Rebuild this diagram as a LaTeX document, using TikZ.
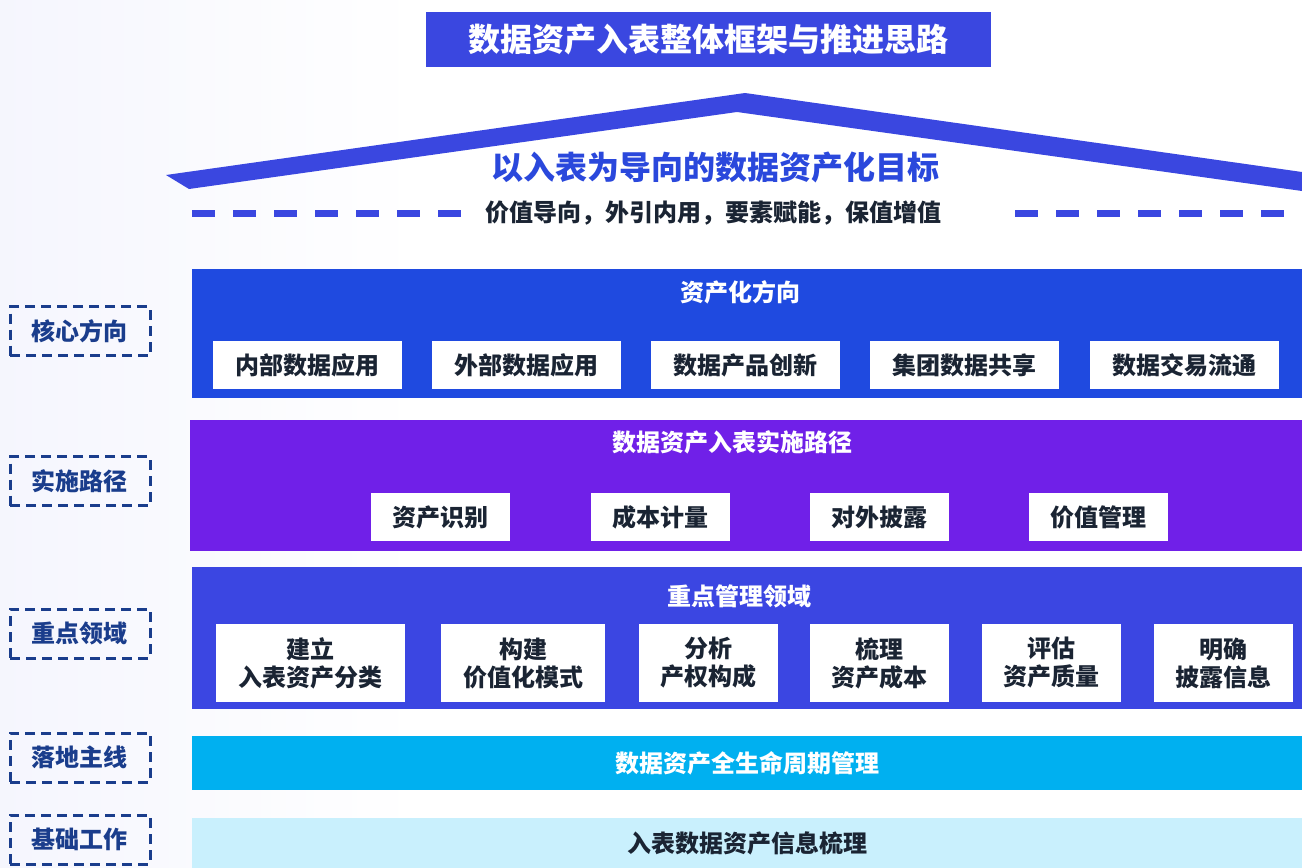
\documentclass[tikz,border=0pt]{standalone}
\usepackage{fontspec}
\setmainfont{Noto Sans CJK SC}
\usepackage{tikz}
\usetikzlibrary{positioning}
\definecolor{RoofBlue}{HTML}{3A47E0}
\definecolor{CoreBlue}{HTML}{1F4AE0}
\definecolor{PathPurple}{HTML}{7020E8}
\definecolor{AreaBlue}{HTML}{3B46E2}
\definecolor{LineCyan}{HTML}{00B0F0}
\definecolor{BaseCyan}{HTML}{C9F0FD}
\definecolor{ItemInk}{HTML}{1A2433}
\definecolor{SideInk}{HTML}{1A3D8C}
\definecolor{GoalBlue}{HTML}{2A48DC}
\tikzstyle{every node}=[font=\bfseries\fontsize{12}{14}\selectfont]
\tikzset{BandStyle/.style = {
			      shape          = rectangle,
			      inner sep      = 0pt,
			      outer sep      = 0pt,
			      minimum width  = 555pt}
						}
\tikzset{ItemStyle/.style = {
			      shape          = rectangle,
			      fill           = white,
			      text           = ItemInk,
			      align          = center,
			      inner sep      = 0pt,
			      minimum height = 24pt}
						}
\tikzset{SideStyle/.style = {
			      shape          = rectangle,
			      draw           = SideInk,
			      line width     = 1.5pt,
			      dash pattern   = on 5pt off 3pt,
			      text           = SideInk,
			      minimum width  = 70pt,
			      minimum height = 24.5pt}
						}
\tikzset{HeadStyle/.style = {text = white}}
\tikzset{RuleStyle/.style = {RoofBlue, line width = 3.5pt, dash pattern = on 11.5pt off 9pt}}

\begin{document}
\begin{tikzpicture}[x=0.5pt,y=-0.5pt]
	\useasboundingbox[fill=white] (0,0) rectangle (1302,868);
	\shade[left color=RoofBlue!5, right color=white] (0,0) rectangle (420,868);

	% title and roof
	\draw (708.5,39.5) node[shape=rectangle, fill=RoofBlue, text=white, minimum width=282.5pt, minimum height=27.5pt, font=\bfseries\fontsize{16}{19}\selectfont] (title) {数据资产入表整体框架与推进思路};
	\fill[RoofBlue] (166,175) -- (745,93) -- (1302,172) -- (1302,191) -- (737,112) -- (189,189) -- cycle;
	\draw (715,167) node[text=GoalBlue, font=\bfseries\fontsize{16}{19}\selectfont] (goal) {以入表为导向的数据资产化目标};
	\draw (713.5,213) node[text=ItemInk] (motto) {价值导向，外引内用，要素赋能，保值增值};
	\coordinate (ruleL) at (192,213);
	\coordinate (ruleM) at (1015,213);
	\coordinate (ruleR) at (1302,213);
	\draw[RuleStyle] (ruleL) -- (motto.west);
	\draw[RuleStyle] (ruleM) -- (ruleR);

	% core direction
	\draw (747,333.5) node[BandStyle, fill=CoreBlue, minimum height=64.5pt] (core) {};
	\draw (740,292) node[HeadStyle] (coreHead) {资产化方向};
	\draw (307.5,365) node[ItemStyle, minimum width=94.5pt] (c1) {内部数据应用};
	\draw (526.5,365) node[ItemStyle, minimum width=94.5pt] (c2) {外部数据应用};
	\draw (745.5,365) node[ItemStyle, minimum width=94.5pt] (c3) {数据产品创新};
	\draw (964.5,365) node[ItemStyle, minimum width=94.5pt] (c4) {集团数据共享};
	\draw (1184.5,365) node[ItemStyle, minimum width=94.5pt] (c5) {数据交易流通};

	% implementation path
	\draw (746,485.5) node[BandStyle, fill=PathPurple, minimum width=556pt, minimum height=65.5pt] (path) {};
	\draw (732,442) node[HeadStyle] (pathHead) {数据资产入表实施路径};
	\draw (440.5,517) node[ItemStyle, minimum width=69.5pt] (p1) {资产识别};
	\draw (660.5,517) node[ItemStyle, minimum width=69.5pt] (p2) {成本计量};
	\draw (879.5,517) node[ItemStyle, minimum width=69.5pt] (p3) {对外披露};
	\draw (1098.5,517) node[ItemStyle, minimum width=69.5pt] (p4) {价值管理};

	% key areas
	\draw (747,638) node[BandStyle, fill=AreaBlue, minimum height=71pt] (area) {};
	\draw (739,596) node[HeadStyle] (areaHead) {重点管理领域};
	\draw (310.5,663) node[ItemStyle, minimum width=94.5pt, minimum height=39pt] (a1) {建立\\入表资产分类};
	\draw (523,663) node[ItemStyle, minimum width=82pt, minimum height=39pt] (a2) {构建\\价值化模式};
	\draw (708.5,663) node[ItemStyle, minimum width=69.5pt, minimum height=39pt] (a3) {分析\\产权构成};
	\draw (879.5,663) node[ItemStyle, minimum width=69.5pt, minimum height=39pt] (a4) {梳理\\资产成本};
	\draw (1051.5,663) node[ItemStyle, minimum width=69.5pt, minimum height=39pt] (a5) {评估\\资产质量};
	\draw (1223.5,663) node[ItemStyle, minimum width=69.5pt, minimum height=39pt] (a6) {明确\\披露信息};

	% main line and base work
	\draw (747,763) node[BandStyle, fill=LineCyan, minimum height=27pt, text=white] (life) {数据资产全生命周期管理};
	\draw (747,843) node[BandStyle, fill=BaseCyan, minimum height=25pt, text=ItemInk] (base) {入表数据资产信息梳理};

	% side labels
	\draw (80,331) node[SideStyle] (sCore) {核心方向};
	\draw (80,481) node[SideStyle] (sPath) {实施路径};
	\draw (80,633.5) node[SideStyle] (sArea) {重点领域};
	\draw (80,757.5) node[SideStyle] (sLine) {落地主线};
	\draw (80,839.5) node[SideStyle] (sBase) {基础工作};
\end{tikzpicture}
\end{document}
